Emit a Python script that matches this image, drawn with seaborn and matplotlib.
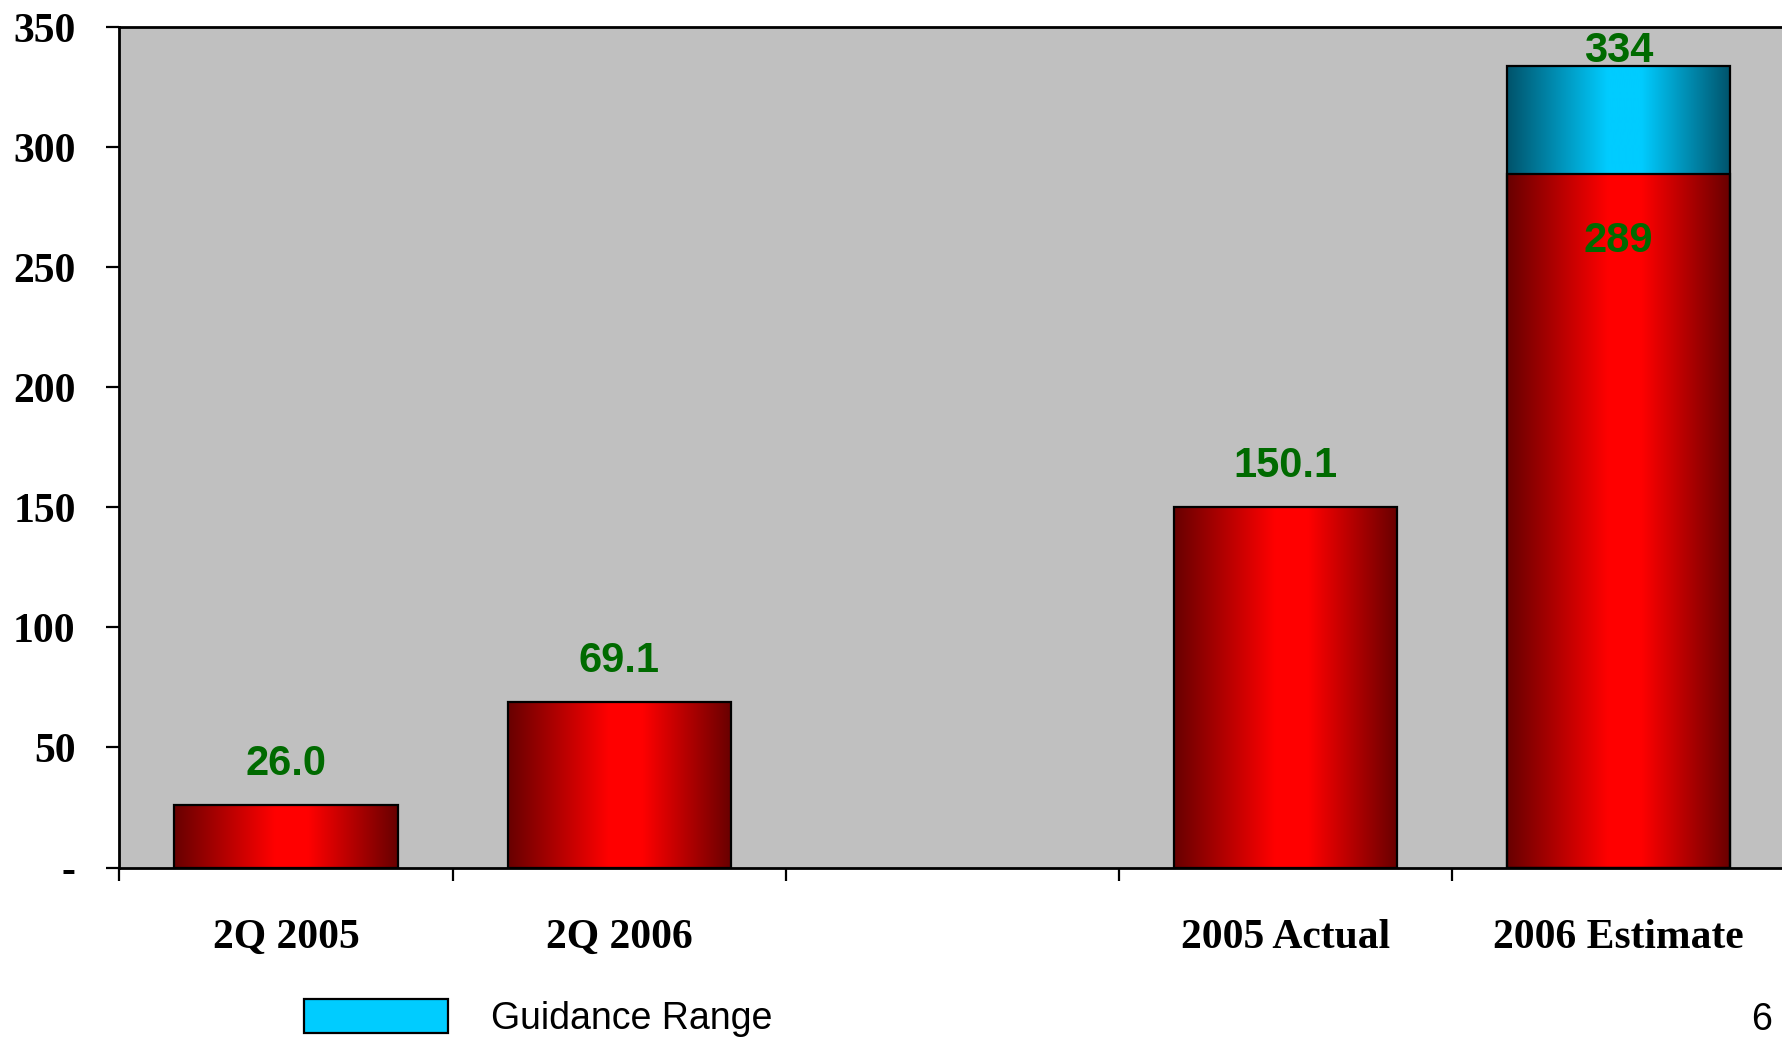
import numpy as np
import pandas as pd
import matplotlib
matplotlib.use("Agg")
import matplotlib.pyplot as plt
import seaborn as sns
from matplotlib.colors import LinearSegmentedColormap
from matplotlib.patches import Patch

# ---- data -------------------------------------------------------------
categories = ["2Q 2005", "2Q 2006", "", "2005 Actual", "2006 Estimate"]
base_values = [26.0, 69.1, None, 150.1, 289.0]
guidance_high = [None, None, None, None, 334.0]
value_labels = ["26.0", "69.1", "", "150.1", "289"]
guidance_labels = ["", "", "", "", "334"]
y_ticks = [0, 50, 100, 150, 200, 250, 300, 350]
y_tick_labels = ["-", "50", "100", "150", "200", "250", "300", "350"]
legend_label = "Guidance Range"
page_number = "6"

base_df = pd.DataFrame({"category": categories, "value": base_values}).dropna()
guide_df = pd.DataFrame({"category": categories, "value": guidance_high}).dropna()

# ---- styling ----------------------------------------------------------
sns.set_style("ticks")
plt.rcParams.update({"text.color": "black", "xtick.color": "black",
                     "ytick.color": "black", "axes.labelcolor": "black"})
GREEN = "#006a00"
red_cmap = LinearSegmentedColormap.from_list(
    "bar_red", [(0, "#680000"), (0.45, "#ff0000"), (0.6, "#ff0000"), (1, "#680000")])
cyan_cmap = LinearSegmentedColormap.from_list(
    "bar_cyan", [(0, "#00536b"), (0.45, "#00ccff"), (0.6, "#00ccff"), (1, "#00536b")])

W, H = 1783, 1043
fig = plt.figure(figsize=(W / 100, H / 100), dpi=100)
left, top, bottom = 119.5, 27.3, 867.5
ax = fig.add_axes([left / W, 1 - bottom / H, 1 - left / W + 0.001, (bottom - top) / H])
ax.set_facecolor("#c0c0c0")

# guidance bars first (full height), base bars on top of them
sns.barplot(data=guide_df, x="category", y="value", order=categories, width=0.67,
            color="#00ccff", saturation=1, errorbar=None, ax=ax)
n_guide = len(ax.patches)
sns.barplot(data=base_df, x="category", y="value", order=categories, width=0.67,
            color="#ff0000", saturation=1, errorbar=None, ax=ax)
guide_patches = ax.patches[:n_guide]
base_patches = ax.patches[n_guide:]

grad = np.linspace(0, 1, 256).reshape(1, -1)
for patches, cmap, z in ((guide_patches, cyan_cmap, 1.5), (base_patches, red_cmap, 2.0)):
    for p in patches:
        x0, w, y0, h = p.get_x(), p.get_width(), p.get_y(), p.get_height()
        ax.imshow(grad, cmap=cmap, extent=(x0, x0 + w, y0, y0 + h),
                  aspect="auto", zorder=z, interpolation="bicubic")
        p.set_facecolor("none")
        p.set_edgecolor("black")
        p.set_linewidth(1.6)
        p.set_zorder(3)

# value labels
label_font = dict(family="Liberation Sans", weight="bold", size=30, color=GREEN)
for i, (v, lab) in enumerate(zip(base_values, value_labels)):
    if not lab:
        continue
    if guidance_high[i] is not None:
        ax.text(i, v - 26, lab, ha="center", va="center_baseline", zorder=5, **label_font)
    else:
        ax.text(i, v + 19, lab, ha="center", va="center_baseline", zorder=5, **label_font)
for i, (v, lab) in enumerate(zip(guidance_high, guidance_labels)):
    if lab:
        ax.text(i, (v + 350) / 2, lab, ha="center", va="center_baseline", zorder=5,
                clip_on=False, **label_font)

# axes
ax.set_xlim(-0.5, 4.5)
ax.set_ylim(0, 350)
ax.set_xlabel("")
ax.set_ylabel("")
for side in ("left", "top", "bottom"):
    ax.spines[side].set_color("black")
    ax.spines[side].set_linewidth(2)
ax.spines["right"].set_visible(False)

tick_font = dict(family="Liberation Serif", weight="bold", size=30, color="black")
ax.set_yticks(y_ticks)
ax.set_yticklabels(y_tick_labels, **tick_font)
ax.tick_params(axis="y", length=9.5, width=1.6, pad=22, direction="out", color="black")

ax.set_xticks(range(len(categories)))
ax.set_xticklabels(categories, **tick_font)
ax.set_xticks(np.arange(-0.5, len(categories), 1), minor=True)
ax.tick_params(axis="x", which="major", length=0, pad=37)
ax.tick_params(axis="x", which="minor", length=9.5, width=1.6, direction="out", color="black")

# legend and page number
fig.legend(handles=[Patch(facecolor="#00ccff", edgecolor="black", linewidth=1.6)],
           labels=[legend_label], loc="upper left",
           bbox_to_anchor=(303.6 / W, 1 - 999 / H), frameon=False,
           prop={"family": "Liberation Sans", "size": 27},
           handlelength=3.85, handleheight=1.0, handletextpad=1.15,
           borderpad=0, borderaxespad=0, labelcolor="black")
fig.text(1751 / W, 1 - 1038 / H, page_number, ha="left", va="bottom",
         family="Liberation Sans", size=27, color="black")

fig.savefig("out.png", dpi=100)
